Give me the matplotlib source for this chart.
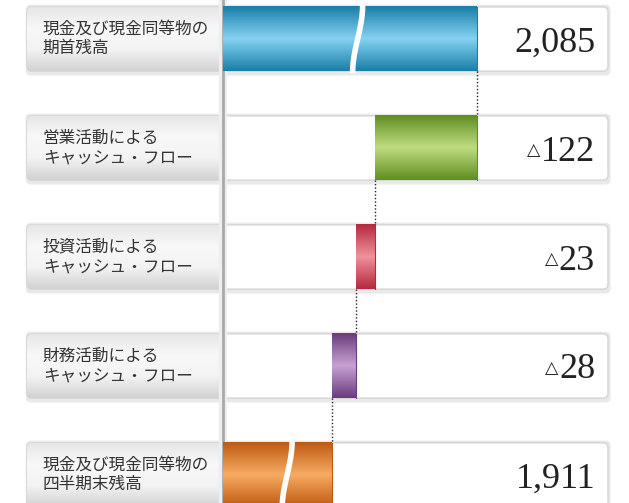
import numpy as np
import matplotlib
matplotlib.use("Agg")
import matplotlib.pyplot as plt
from matplotlib.colors import LinearSegmentedColormap
from matplotlib.patches import FancyBboxPatch
from matplotlib.transforms import blended_transform_factory

# ======= data =======
labels = [
    "現金及び現金同等物の\n期首残高",
    "営業活動による\nキャッシュ・フロー",
    "投資活動による\nキャッシュ・フロー",
    "財務活動による\nキャッシュ・フロー",
    "現金及び現金同等物の\n四半期末残高",
]
values = [2085, -122, -23, -28, 1911]
value_text = ["2,085", "122", "23", "28", "1,911"]
is_total = [True, False, False, False, True]
break_frac = [0.53, None, None, None, 0.59]   # where the axis-break wave sits

dark = ["#1b7fa8", "#5f8f22", "#b52a3e", "#6b3c7e", "#bf5a12"]
light = ["#84d2f2", "#c0dc80", "#f0919c", "#c6a2d2", "#f7ab62"]

AXIS_START = 1781          # value at the left edge of the bar area (broken axis)
XLIM = (1514, 2267)
BAR_H = 0.59
# ====================

fig = plt.figure(figsize=(6.29, 5.03), dpi=100)
ax = fig.add_axes([0, 0, 1, 1])
ax.axis("off")
bt = blended_transform_factory(ax.transAxes, ax.transData)

box_l, box_r, split = 27 / 629, 608 / 629, 223 / 629
rnd = 5 / 629
asp = (5 / 109) / rnd

gray_cmap = LinearSegmentedColormap.from_list("g", ["#e6e6e6", "#f8f8f8", "#f3f3f3", "#d2d2d2"])
grad = np.linspace(0, 1, 80).reshape(-1, 1)

# running level for waterfall
starts, ends = [], []
level = 0
for v, tot in zip(values, is_total):
    if tot:
        starts.append(AXIS_START)
        ends.append(v)
        level = v
    else:
        starts.append(level + v)
        ends.append(level)
        level = level + v

for i, lab in enumerate(labels):
    y0 = i - BAR_H / 2
    # shadow + box
    sh = FancyBboxPatch((box_l - 0.002, y0 - 0.02), box_r - box_l + 0.006, BAR_H + 0.06,
                        boxstyle=f"round,pad=0,rounding_size={rnd}", mutation_aspect=asp,
                        transform=bt, fc="#d4d4d4", ec="none", alpha=0.5, zorder=1)
    ax.add_patch(sh)
    box = FancyBboxPatch((box_l, y0), box_r - box_l, BAR_H,
                         boxstyle=f"round,pad=0,rounding_size={rnd}", mutation_aspect=asp,
                         transform=bt, fc="white", ec="#d4d4d4", lw=1, zorder=2)
    ax.add_patch(box)
    im = ax.imshow(grad, cmap=gray_cmap, aspect="auto", transform=bt,
                   extent=(box_l, split, i + BAR_H / 2, y0), zorder=2.5)
    im.set_clip_path(box)
    ax.text(0.068, i, lab, transform=bt, va="center", ha="left", fontsize=12,
            family=["Noto Sans CJK JP", "DejaVu Sans"], color="#333333", linespacing=1.2, zorder=6)

# axis line at bar-area start
ax.axvline(AXIS_START, color="#eeeeee", lw=6, zorder=3)
ax.axvline(AXIS_START, color="#a9a9a9", lw=2, zorder=3.1)

for i in range(len(values)):
    cmap = LinearSegmentedColormap.from_list("b", [dark[i], light[i], dark[i]])
    ax.imshow(grad, cmap=cmap, aspect="auto",
              extent=(starts[i], ends[i], i + BAR_H / 2, i - BAR_H / 2), zorder=4)
    ax.plot([ends[i], ends[i]], [i - BAR_H / 2, i + BAR_H / 2], color=dark[i], lw=0.8, zorder=4.2)
    if break_frac[i] is not None:
        xc = starts[i] + break_frac[i] * (ends[i] - starts[i])
        t = np.linspace(0, 1, 50)
        ax.plot(xc + 6 * np.cos(np.pi * t), i - BAR_H / 2 - 0.02 + t * (BAR_H + 0.04),
                color="white", lw=4, solid_capstyle="butt", zorder=4.5)

# dotted connectors
level = values[0]
for i in range(len(values) - 1):
    ax.plot([level, level], [i + BAR_H / 2, i + 1 - BAR_H / 2], color="#222222",
            lw=1, ls=(0, (1, 1.5)), zorder=4)
    if i + 1 < len(values) - 1:
        level += values[i + 1]

# value texts
fig.canvas.draw()
r = fig.canvas.get_renderer()
for i, txt in enumerate(value_text):
    t = ax.text(0.946, i, txt, transform=bt, ha="right", va="center_baseline",
                fontsize=26, family="Liberation Serif", color="#222222", zorder=6)
    if values[i] < 0:
        bb = t.get_window_extent(r)
        x_ax = ax.transAxes.inverted().transform((bb.x0, 0))[0]
        ax.text(x_ax - 0.001, i + 0.02, "△", transform=bt, ha="right", va="center",
                fontsize=12.5, family="DejaVu Sans", color="#222222", zorder=6)

ax.set_xlim(*XLIM)
ax.set_ylim(4.257, -0.358)
fig.savefig("out.png", dpi=100)
